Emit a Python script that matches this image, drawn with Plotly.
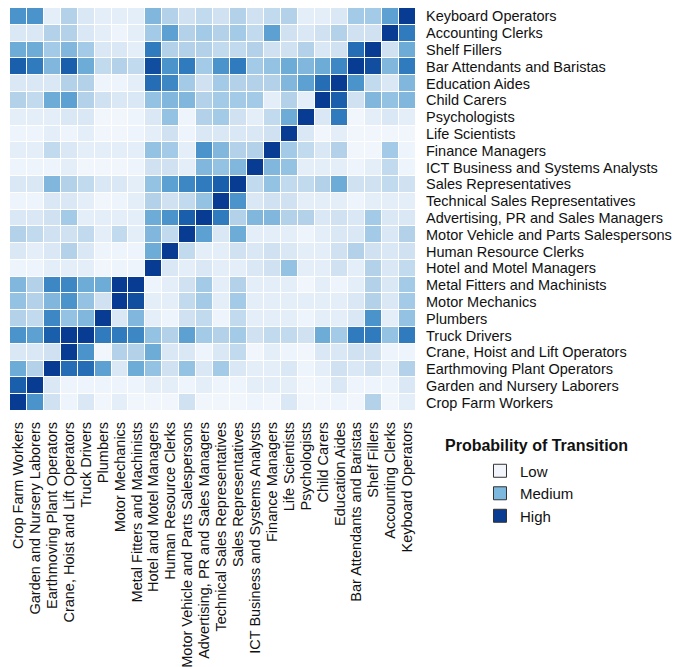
import plotly.graph_objects as go

occupations = [
    "Crop Farm Workers", "Garden and Nursery Laborers", "Earthmoving Plant Operators",
    "Crane, Hoist and Lift Operators", "Truck Drivers", "Plumbers", "Motor Mechanics",
    "Metal Fitters and Machinists", "Hotel and Motel Managers", "Human Resource Clerks",
    "Motor Vehicle and Parts Salespersons", "Advertising, PR and Sales Managers",
    "Technical Sales Representatives", "Sales Representatives",
    "ICT Business and Systems Analysts", "Finance Managers", "Life Scientists",
    "Psychologists", "Child Carers", "Education Aides", "Bar Attendants and Baristas",
    "Shelf Fillers", "Accounting Clerks", "Keyboard Operators",
]

# transition intensity (0 = low ... 9 = high), columns follow `occupations`
crop_farm_workers = [9, 6, 2, 0.5, 1.5, 0.3, 1, 0.3, 0.3, 0.3, 2, 0.3, 0.3, 0.3, 0.5, 0.3, 1.5, 0.3, 0.3, 0.5, 0.3, 3, 0.3, 1]
garden_nursery = [8, 9, 1.5, 0.5, 0.5, 0.5, 0.5, 0.5, 1, 1, 0.5, 1, 0.5, 0.5, 1, 1, 1, 0.3, 0.5, 1.5, 0.5, 0.5, 0.5, 1.5]
earthmoving = [5, 3, 9, 7.5, 7.5, 5.5, 1.5, 5, 4, 2, 4, 1.5, 3.5, 1.5, 1, 1, 1.5, 0.5, 1, 2, 1.5, 2, 1, 3]
crane_hoist = [1.5, 1.5, 2, 9, 6, 0.3, 3, 3, 5, 1.5, 1.5, 0.5, 1.5, 2.5, 0.3, 1, 0.5, 0.3, 1.5, 1.5, 2, 2, 0.5, 0.5]
truck_drivers = [6, 5.5, 8, 9, 9, 7, 7, 6.5, 4, 3, 5.5, 3.5, 3, 3.5, 2, 2.5, 2.5, 2, 5, 3.5, 7, 7, 4, 7]
plumbers = [3, 2.5, 6.5, 4, 4.5, 9, 1.5, 4.5, 1, 0.5, 2, 2.5, 0.5, 2.5, 1, 1, 1, 0.5, 1, 1, 1.5, 6, 1, 4]
motor_mechanics = [4, 3, 4.5, 6, 4, 2, 9, 8.5, 1, 1, 2.5, 3.5, 1, 3.5, 1, 1, 1, 1, 1, 1, 1.5, 3, 1.5, 3.5]
metal_fitters = [4.5, 3, 6.5, 6.5, 5, 5, 9, 9, 0.5, 1, 2, 3.5, 1, 3, 1, 1, 1, 0.3, 1, 0.5, 1, 3, 1.5, 3.5]
hotel_managers = [0.5, 0.5, 1, 1, 1, 0.3, 0.5, 0.5, 9, 1.5, 1, 1.5, 1, 1, 1.5, 2, 4, 1, 1, 2, 1, 3, 1.5, 2.5]
hr_clerks = [1.5, 1, 1.5, 3, 1.5, 0.5, 0.5, 0.5, 5, 9, 2.5, 1, 1, 2, 1.5, 2, 1.5, 1, 1, 2, 3, 2, 1.5, 2]
motor_vehicle_sales = [3, 2.5, 2, 2, 2.5, 1, 2.5, 1, 4.5, 2.5, 9, 5.5, 1.5, 5, 1, 1, 1, 0.5, 1, 1.5, 1.5, 3.5, 1.5, 3]
advertising_pr = [1.5, 1.5, 2, 3.5, 1, 1, 1, 1, 5, 6, 8, 9, 7, 3, 4.5, 4.5, 3, 3, 1.5, 2, 1.5, 3.5, 1.5, 1.5]
technical_sales = [0.5, 0.5, 1.5, 1.5, 1, 0.3, 0.5, 1, 3, 2, 2.5, 4, 9, 6, 1.5, 2, 2, 1, 1, 1, 0.5, 1, 1, 1]
sales_reps = [1.5, 1.5, 4.5, 3, 2.5, 1.5, 1.5, 1, 4, 5.5, 6.5, 7, 8, 9, 2.5, 4, 2.5, 2.5, 3, 5, 2, 2, 2.5, 2]
ict_analysts = [0.5, 0.5, 0.5, 1, 0.3, 0.3, 0.3, 0.5, 2, 2, 1, 4.5, 4, 4.5, 9, 4.5, 4, 1, 1, 1, 0.5, 1, 2.5, 0.5]
finance_managers = [1, 1, 2.5, 1.5, 1, 1, 1, 1, 4, 3.5, 1, 6, 4.5, 3, 3, 9, 3.5, 2.5, 1.5, 3, 0.3, 0.3, 3.5, 0.5]
life_scientists = [0.5, 0.5, 1, 0.5, 1, 0.3, 0.3, 0.5, 1, 2, 0.5, 1.5, 1.5, 1.5, 1.5, 2, 9, 1.5, 0.3, 1, 0.3, 0.3, 0.3, 0.3]
psychologists = [1, 1, 1, 1.5, 1.5, 0.3, 0.3, 0.5, 1.5, 4, 0.5, 3, 3.5, 2, 1, 2.5, 5, 9, 1.5, 7, 0.3, 1, 1.5, 1]
child_carers = [3, 2.5, 5, 5.5, 3, 2, 1.5, 1.5, 4, 4.5, 4.5, 3, 3.5, 3.5, 3.5, 1, 3, 1, 9, 8, 2, 4.5, 4, 4.5]
education_aides = [1.5, 1.5, 1.5, 3, 3, 0.5, 0.5, 1, 7.5, 6.5, 3.5, 2, 3.5, 3, 3, 3, 4.5, 5.5, 7.5, 9, 6, 2.5, 1.5, 4.5]
bar_attendants = [8, 7, 4.5, 8, 5, 2.5, 3, 2.5, 8.5, 6, 7, 3.5, 6, 7, 3.5, 4, 5, 4.5, 5, 6.5, 9, 8.5, 4.5, 7]
shelf_fillers = [5, 5, 3.5, 4.5, 3.5, 1.5, 1.5, 1, 7, 3, 3, 3, 2.5, 2.5, 3, 2, 2, 3, 1.5, 2, 7.5, 9, 2, 5]
accounting_clerks = [1.5, 1.5, 3, 3, 1.5, 1, 0.5, 1, 3.5, 5.5, 3, 3.5, 3, 3.5, 2.5, 5.5, 2, 1.5, 2, 3, 2, 2, 9, 7]
keyboard_operators = [6, 6, 1, 3, 1.5, 1, 1, 1, 4.5, 3, 2, 2.5, 2, 3, 2, 2.5, 3, 1, 1, 1.5, 3.5, 3.5, 5.5, 9]

legend_levels = ["Low", "Medium", "High"]
legend_title = "Probability of Transition"

z = [
    crop_farm_workers, garden_nursery, earthmoving, crane_hoist, truck_drivers,
    plumbers, motor_mechanics, metal_fitters, hotel_managers, hr_clerks,
    motor_vehicle_sales, advertising_pr, technical_sales, sales_reps, ict_analysts,
    finance_managers, life_scientists, psychologists, child_carers, education_aides,
    bar_attendants, shelf_fillers, accounting_clerks, keyboard_operators,
]

colorscale = [
    [0.0, "#f5f9fe"], [1 / 9, "#e4eef8"], [2 / 9, "#d0e2f2"], [3 / 9, "#b3d2e9"],
    [4 / 9, "#93c2e2"], [5 / 9, "#6eacd8"], [6 / 9, "#4b94cb"], [7 / 9, "#2f7bbd"],
    [8 / 9, "#1a5fab"], [1.0, "#083c93"],
]
legend_colors = ["#f2f5fb", "#7db9df", "#0a3d91"]

FONT = "Liberation Sans, Arial, Helvetica, sans-serif"

fig = go.Figure()
fig.add_trace(go.Heatmap(
    z=z, x=occupations, y=occupations, zmin=0, zmax=9,
    colorscale=colorscale, showscale=False, xgap=1, ygap=1,
))
for name, col in zip(legend_levels, legend_colors):
    fig.add_trace(go.Scatter(
        x=[None], y=[None], mode="markers", name=name,
        marker=dict(symbol="square", size=13, color=col,
                    line=dict(color="#333333", width=1)),
    ))

fig.add_annotation(
    text="<b>" + legend_title + "</b>", xref="paper", yref="paper",
    x=1.2956, y=-0.0844, xanchor="center", yanchor="middle", showarrow=False,
    font=dict(family=FONT, size=16, color="#111111"),
)

fig.update_layout(
    width=682, height=659,
    margin=dict(l=2, r=274, t=0, b=256),
    paper_bgcolor="white", plot_bgcolor="white",
    font=dict(family=FONT, size=14.5, color="#111111"),
    showlegend=True,
    legend=dict(
        x=1.1576, y=-0.108, xanchor="left", yanchor="top",
        font=dict(family=FONT, size=15, color="#111111"),
        tracegroupgap=0, bgcolor="rgba(0,0,0,0)",
    ),
    xaxis=dict(
        type="category", tickangle=-90, showgrid=False, zeroline=False,
        showline=False, ticks="", automargin=False, ticklabelstandoff=7,
        tickmode="array", tickvals=occupations, ticktext=occupations,
        tickfont=dict(family=FONT, size=14.5, color="#111111"),
    ),
    yaxis=dict(
        type="category", side="right", showgrid=False, zeroline=False,
        showline=False, ticks="", automargin=False, ticklabelstandoff=9,
        tickmode="array", tickvals=occupations, ticktext=occupations,
        tickfont=dict(family=FONT, size=14.5, color="#111111"),
    ),
)

fig.write_html("out.html")
